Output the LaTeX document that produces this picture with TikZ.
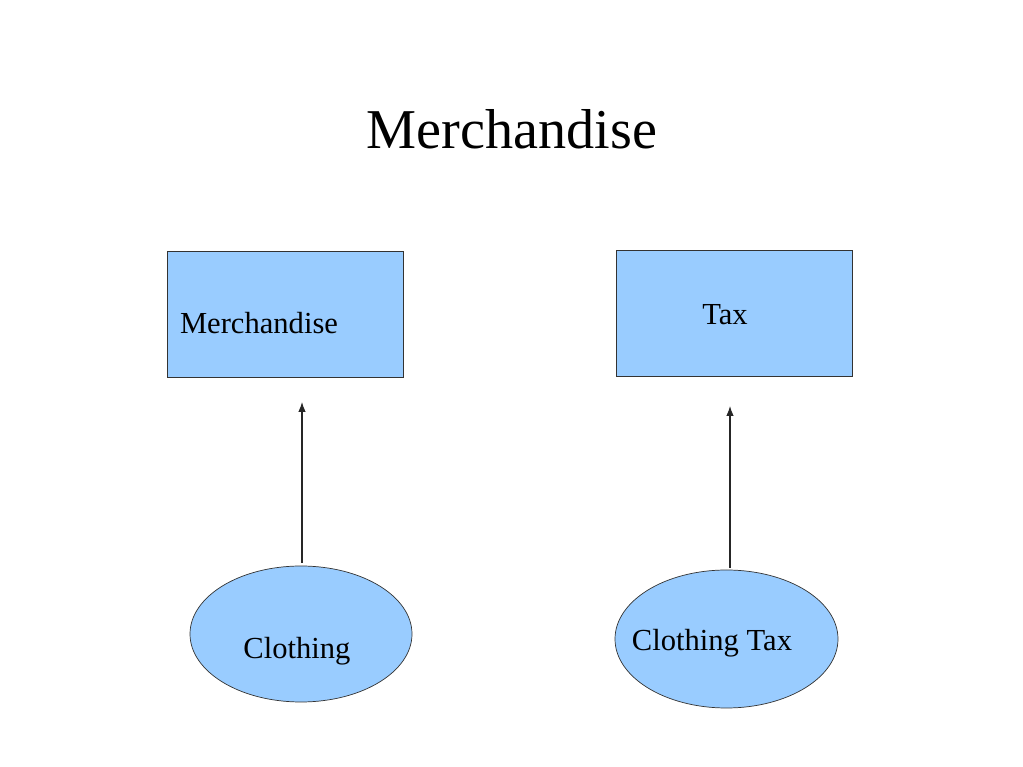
\documentclass[tikz,border=0pt]{standalone}
\usepackage{fontspec}
\setmainfont{Liberation Serif}
\usepackage{tikz}
\usetikzlibrary{arrows.meta,shapes.geometric}
\definecolor{boxblue}{HTML}{99CCFF}

\begin{document}
\begin{tikzpicture}[
  box/.style={draw=black!80, fill=boxblue, minimum width=4.72cm, minimum height=2.52cm},
  blob/.style={ellipse, draw=black!80, fill=boxblue, minimum width=4.44cm, minimum height=2.72cm},
  lbl/.style={font=\fontsize{17.4}{20}\selectfont},
  link/.style={-{Latex[length=2mm,width=1.5mm]}, semithick, black!85}
]
\useasboundingbox (0,0) rectangle (20.46,-15.34);
% Title
\node[font=\fontsize{32}{38}\selectfont] (title) at (10.24,-2.58) {Merchandise};

% Boxes
\node[box] (merch) at (5.70,-6.28) {};
\node[lbl] (merchtext) at (5.18,-6.46) {Merchandise};
\node[box] (tax) at (14.68,-6.26) {};
\node[lbl] (taxtext) at (14.5,-6.30) {Tax};

% Ellipses
\node[blob] (cloth) at (6.02,-12.68) {};
\node[lbl] (clothtext) at (5.94,-13.02) {Clothing};
\node[blob, minimum width=4.46cm, minimum height=2.76cm] (clothtax) at (14.53,-12.78) {};
\node[lbl] (clothtaxtext) at (14.24,-12.86) {Clothing Tax};

% Arrows
\coordinate (merchend) at (6.04,-8.04);
\coordinate (taxend) at (14.60,-8.12);
\draw[link] (cloth.north -| merchend) ++(0,0.06) -- (merchend);
\draw[link] (clothtax.north -| taxend) ++(0,0.04) -- (taxend);
\end{tikzpicture}
\end{document}
